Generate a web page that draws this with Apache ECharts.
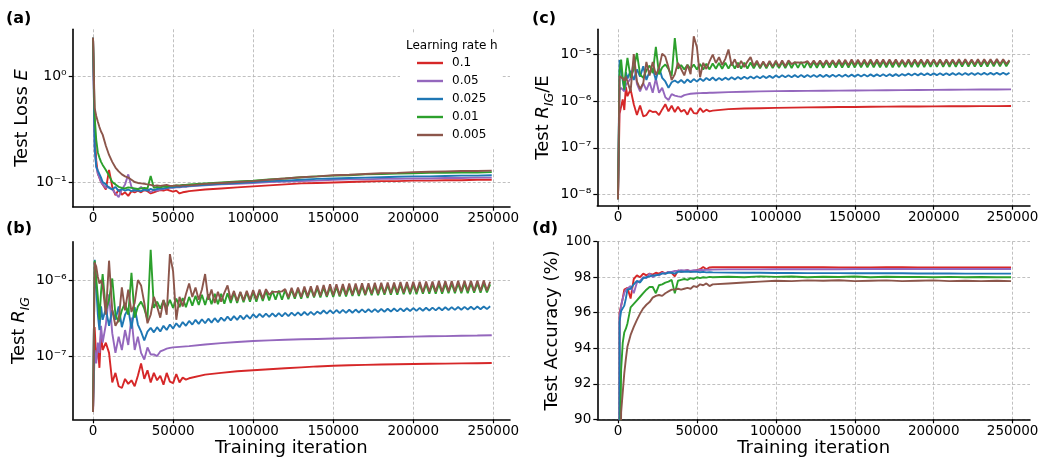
<!DOCTYPE html>
<html><head><meta charset="utf-8">
<script src="https://cdn.jsdelivr.net/npm/echarts@6/dist/echarts.min.js"></script>
<style>html,body{margin:0;padding:0;background:#fff}#c{width:1047px;height:462px}</style>
</head><body><div id="c"></div>
<script>
// ---------- sampling grids (training iteration) ----------
const xEarly = [0,1000,2000,3000,4000,5000,6000,8000,10000,12000,14000,16000,18000,20000,22000,24000,26000,28000,30000,32000,34000,36000,38000,40000,42000,44000,46000,48000,50000,52000,54000,56000,58000,60000];
const xLate = [62000,64000,66000,68000,70000,72000,74000,76000,78000,80000,
82000,84000,86000,88000,90000,92000,94000,96000,98000,100000,
102000,104000,106000,108000,110000,112000,114000,116000,118000,120000,
122000,124000,126000,128000,130000,132000,134000,136000,138000,140000,
142000,144000,146000,148000,150000,152000,154000,156000,158000,160000,
162000,164000,166000,168000,170000,172000,174000,176000,178000,180000,
182000,184000,186000,188000,190000,192000,194000,196000,198000,200000,
202000,204000,206000,208000,210000,212000,214000,216000,218000,220000,
222000,224000,226000,228000,230000,232000,234000,236000,238000,240000,
242000,244000,246000,248000];
const xCoarse = [70000,80000,90000,100000,110000,120000,130000,140000,150000,160000,170000,180000,190000,200000,210000,220000,230000,240000,249000];
const xTicks = [0,50000,100000,150000,200000,250000];

// ---------- (a) Test loss E ----------
const aRedEarly = [2.3,0.3,0.16,0.12,0.11,0.1,0.095,0.085,0.13,0.09,0.075,0.085,0.076,0.08,0.074,0.082,0.08,0.083,0.08,0.084,0.082,0.078,0.08,0.082,0.084,0.083,0.085,0.083,0.081,0.083,0.078,0.08,0.081,0.082];
const aPurpleEarly = [2.3,0.2,0.14,0.12,0.11,0.1,0.095,0.088,0.09,0.085,0.078,0.072,0.085,0.095,0.118,0.09,0.082,0.085,0.09,0.083,0.086,0.08,0.084,0.083,0.085,0.086,0.087,0.088,0.088,0.089,0.089,0.09,0.09,0.091];
const aBlueEarly = [2.3,0.22,0.14,0.128,0.13,0.11,0.1,0.095,0.088,0.085,0.09,0.082,0.086,0.083,0.085,0.082,0.084,0.083,0.082,0.085,0.083,0.086,0.084,0.086,0.087,0.087,0.088,0.089,0.089,0.09,0.09,0.091,0.091,0.092];
const aGreenEarly = [2.3,0.42,0.25,0.19,0.17,0.155,0.145,0.13,0.115,0.1,0.095,0.09,0.088,0.087,0.089,0.088,0.087,0.086,0.087,0.088,0.087,0.114,0.088,0.09,0.089,0.091,0.09,0.092,0.092,0.093,0.093,0.094,0.094,0.095];
const aBrownEarly = [2.3,0.5,0.42,0.37,0.33,0.3,0.28,0.22,0.18,0.155,0.137,0.126,0.118,0.113,0.11,0.105,0.1,0.098,0.097,0.096,0.095,0.094,0.092,0.093,0.092,0.093,0.094,0.092,0.092,0.093,0.092,0.093,0.093,0.093];
const aRedLate = [0.085,0.087,0.089,0.091,0.093,0.095,0.097,0.098,0.099,0.1,0.101,0.102,0.102,0.103,0.103,0.104,0.104,0.105,0.105];
const aPurpleLate = [0.093,0.095,0.096,0.098,0.1,0.101,0.102,0.103,0.105,0.106,0.106,0.107,0.107,0.108,0.108,0.109,0.109,0.11,0.11];
const aBlueLate = [0.094,0.096,0.098,0.1,0.102,0.103,0.105,0.107,0.108,0.109,0.11,0.111,0.112,0.113,0.113,0.114,0.115,0.115,0.116];
const aGreenLate = [0.097,0.099,0.101,0.103,0.106,0.108,0.111,0.113,0.115,0.116,0.118,0.119,0.12,0.121,0.122,0.122,0.123,0.123,0.124];
const aBrownLate = [0.096,0.098,0.1,0.102,0.105,0.108,0.111,0.113,0.116,0.117,0.119,0.121,0.122,0.124,0.125,0.126,0.127,0.127,0.128];

// ---------- (b) Test R_IG, values in units of 1e-7 ----------
const B_UNIT = 1e-7;
const bRedEarly = [0.184,2.4,0.9,1.3,0.7,2.0,1.2,1.5,1.1,0.45,0.6,0.4,0.38,0.5,0.43,0.48,0.4,0.55,0.8,0.5,0.65,0.45,0.6,0.48,0.55,0.42,0.6,0.46,0.44,0.58,0.45,0.52,0.49,0.51];
const bPurpleEarly = [0.184,1.2,0.8,1.5,1.1,2.5,1.5,2.6,6.5,2.0,1.1,1.8,1.2,2.2,1.4,3.2,1.2,1.8,1.1,0.9,1.3,1.05,1.05,1.0,1.15,1.2,1.25,1.28,1.3,1.31,1.32,1.33,1.34,1.35];
const bBlueEarly = [0.184,18.5,19,3.5,2.2,4.5,3.0,4.2,2.5,4.0,3.0,4.5,2.4,3.5,4.2,2.3,4.4,2.6,2.1,1.6,2.1,2.35,2.05,2.4,2.1,2.5,2.2,2.6,2.3,2.7,2.4,2.8,2.5,2.9];
const bGreenEarly = [0.184,18,19,6,3,7,12,4,5.5,10.5,3.5,2.8,4,5,3.5,12.5,3.2,4.5,5.2,4.2,3,25,4.3,5.2,4.2,5.4,4.3,5.5,4.3,5.7,4.4,5.8,4.4,6.0];
const bBrownEarly = [0.184,17,15,11,9,10,8.5,3.5,18,4,2.5,3,8,4,7.5,3.8,5,10,8.5,5,2.7,3.5,6,4.5,3.2,5.5,3.5,22,13,3,6,4.5,6.5,9];
const bRedLate = [0.57,0.6,0.63,0.65,0.67,0.69,0.71,0.73,0.745,0.755,0.765,0.775,0.78,0.785,0.79,0.795,0.8,0.805,0.81];
const bPurpleLate = [1.42,1.48,1.53,1.58,1.61,1.64,1.66,1.68,1.7,1.72,1.74,1.76,1.78,1.8,1.82,1.83,1.85,1.86,1.88];
const bBlueLate = [2.6,3.0,2.65,3.05,2.7,3.1,2.75,3.15,2.8,3.2,
2.9,3.3,2.95,3.35,3.0,3.4,3.05,3.45,3.1,3.55,
3.2,3.6,3.25,3.62,3.28,3.65,3.3,3.68,3.33,3.7,
3.36,3.73,3.4,3.76,3.42,3.8,3.45,3.82,3.48,3.85,
3.6,3.98,3.62,4.0,3.65,4.03,3.68,4.05,3.7,4.07,
3.72,4.09,3.74,4.11,3.76,4.13,3.78,4.15,3.8,4.17,
3.83,4.2,3.85,4.22,3.87,4.24,3.89,4.26,3.91,4.28,
3.93,4.3,3.95,4.32,3.97,4.34,3.99,4.36,4.01,4.38,
4.03,4.4,4.05,4.42,4.07,4.44,4.09,4.46,4.11,4.48,
4.13,4.5,4.15,4.52];
const bGreenLate = [4.6,6.2,4.7,6.4,4.7,6.5,4.8,6.6,4.8,6.6,
4.9,6.7,5.0,6.8,5.0,6.9,5.1,6.9,5.2,7.0,
5.2,7.1,5.3,7.2,5.4,7.2,5.5,7.3,5.5,7.4,
5.6,7.5,5.7,7.6,5.7,7.7,5.8,7.8,5.9,7.9,
5.9,8.0,6.0,8.0,6.0,8.1,6.1,8.2,6.1,8.2,
6.2,8.3,6.2,8.4,6.3,8.4,6.3,8.5,6.3,8.5,
6.4,8.6,6.4,8.6,6.4,8.7,6.5,8.7,6.5,8.8,
6.5,8.8,6.6,8.8,6.6,8.9,6.6,8.9,6.6,8.9,
6.7,9.0,6.7,9.0,6.7,9.0,6.7,9.1,6.8,9.1,
6.8,9.1,6.9,8.8];
const bBrownLate = [6.0,8.0,5.5,7.5,12.0,5.5,7.5,5.0,7.0,5.2,
6.8,8.5,5.5,7.2,5.3,7.0,5.4,7.2,5.5,7.4,
5.6,7.5,5.7,7.6,6.4,7.0,7.0,7.0,7.1,7.6,
5.9,7.9,6.0,8.0,6.0,8.2,6.1,8.3,6.1,8.5,
6.2,8.6,6.2,8.8,6.3,8.8,6.3,8.9,6.4,9.0,
6.4,9.0,6.5,9.1,6.5,9.1,6.6,9.2,6.6,9.2,
6.7,9.3,6.7,9.3,6.8,9.4,6.8,9.4,6.9,9.5,
6.9,9.5,6.9,9.6,7.0,9.6,7.0,9.7,7.0,9.7,
7.1,9.7,7.1,9.8,7.1,9.8,7.2,9.8,7.2,9.9,
7.2,9.9,7.3,9.5];

// ---------- (c) Test R_IG / E, values in units of 1e-6 ----------
const C_UNIT = 1e-6;
const cRedEarly = [0.008,0.53,0.56,1.08,0.64,2.0,1.26,1.76,0.85,0.5,0.8,0.47,0.5,0.63,0.58,0.59,0.5,0.66,0.85,0.6,0.79,0.58,0.75,0.59,0.65,0.51,0.71,0.55,0.54,0.7,0.58,0.65,0.6,0.62];
const cPurpleEarly = [0.008,1.7,1.9,1.8,1.6,2.2,2.0,3.0,7.0,2.3,1.6,2.4,1.7,2.5,1.5,3.0,1.5,1.9,1.2,1.05,1.4,1.3,1.25,1.22,1.33,1.38,1.42,1.44,1.46,1.47,1.48,1.48,1.49,1.49];
const cBlueEarly = [0.008,7.5,7.8,2.7,1.7,4.1,3.0,4.4,2.8,4.7,3.3,5.5,2.8,4.2,4.9,2.8,5.2,3.1,2.6,1.9,2.5,2.73,2.44,2.79,2.41,2.87,2.5,2.92,2.58,3.0,2.67,3.08,2.75,3.15];
const cGreenEarly = [0.008,4.3,7.6,3.2,1.76,4.5,8.3,3.1,4.8,10.5,3.7,3.1,4.5,5.7,3.9,14.2,3.7,5.2,6.0,4.8,3.4,22,4.9,5.8,4.7,5.9,4.8,6.0,4.7,6.1,4.7,6.2,4.7,6.3];
const cBrownEarly = [0.008,3.4,3.6,3.0,2.7,3.3,3.0,1.6,10,2.6,1.8,2.4,6.8,3.5,6.8,3.6,5.0,10.2,8.8,5.2,2.8,3.7,6.5,4.8,3.5,5.9,3.7,24,14,3.2,6.5,4.8,7.0,9.7];
const cRedLate = [0.67,0.69,0.70,0.71,0.72,0.73,0.735,0.74,0.745,0.75,0.755,0.76,0.762,0.765,0.768,0.77,0.773,0.775,0.78];
const cPurpleLate = [1.54,1.57,1.6,1.62,1.63,1.64,1.65,1.66,1.67,1.68,1.69,1.7,1.71,1.72,1.73,1.74,1.75,1.755,1.76];
const cBlueLate = [2.73,3.09,2.78,3.14,2.83,3.19,2.88,3.24,2.92,3.28,
2.96,3.32,3.0,3.36,3.04,3.39,3.07,3.42,3.1,3.5,
3.17,3.52,3.19,3.53,3.2,3.55,3.21,3.56,3.22,3.57,
3.23,3.58,3.24,3.59,3.25,3.6,3.26,3.61,3.27,3.62,
3.28,3.63,3.29,3.64,3.3,3.66,3.32,3.67,3.33,3.68,
3.34,3.69,3.35,3.7,3.36,3.72,3.38,3.73,3.39,3.74,
3.48,3.83,3.49,3.84,3.5,3.86,3.52,3.87,3.53,3.88,
3.54,3.89,3.55,3.9,3.56,3.91,3.57,3.92,3.58,3.93,
3.59,3.94,3.6,3.95,3.61,3.96,3.62,3.97,3.63,3.98,
3.64,3.99,3.65,4.0];
const cGreenLate = [4.85,6.45,4.86,6.5,4.88,6.52,4.9,6.55,4.9,6.55,
4.92,6.6,4.94,6.62,4.96,6.65,4.98,6.68,5.0,6.7,
5.02,6.72,5.03,6.75,5.05,6.77,5.06,6.8,5.07,6.82,
5.08,6.84,5.1,6.86,5.11,6.88,5.12,6.9,5.14,6.92,
5.15,6.94,5.16,6.96,5.18,6.98,5.19,7.0,5.2,7.02,
5.21,7.04,5.22,7.06,5.23,7.08,5.24,7.1,5.25,7.12,
5.26,7.14,5.28,7.16,5.29,7.18,5.3,7.2,5.32,7.22,
5.33,7.23,5.34,7.24,5.36,7.25,5.37,7.26,5.38,7.27,
5.4,7.28,5.41,7.29,5.42,7.3,5.44,7.31,5.46,7.32,
5.48,7.33,5.5,7.1];
const cBrownLate = [6.45,8.56,5.85,7.9,12.5,5.7,7.73,5.13,7.14,5.3,
6.9,8.6,5.53,7.2,5.3,6.97,5.35,7.1,5.4,7.25,
5.46,7.28,5.5,7.3,6.1,6.63,6.6,6.54,6.6,7.04,
5.84,7.25,5.85,7.24,5.8,7.35,5.85,7.38,5.8,7.52,
5.84,7.51,5.79,7.62,5.83,7.59,5.81,7.61,5.87,7.69,
5.85,7.63,5.89,7.65,5.86,7.62,5.9,7.63,5.85,7.6,
5.91,7.65,5.89,7.62,5.97,7.67,5.93,7.61,5.96,7.66,
5.94,7.63,5.92,7.68,6.0,7.65,5.98,7.7,5.96,7.7,
6.01,7.67,5.99,7.72,5.99,7.72,6.07,7.72,6.07,7.8,
6.05,7.76,6.1,7.42];

// ---------- (d) Test accuracy (%) ----------
const dRedEarly = [10,96.0,96.4,96.8,97.3,97.3,97.4,96.8,97.9,98.1,98.0,98.2,98.1,98.2,98.15,98.25,98.2,98.3,98.2,98.3,98.25,98.05,98.38,98.3,98.35,98.4,98.3,98.35,98.4,98.45,98.58,98.45,98.55,98.56];
const dPurpleEarly = [10,95.8,96.4,96.8,97.1,97.3,97.4,97.5,97.1,97.7,97.8,98.0,97.95,98.2,98.0,98.15,98.1,98.25,98.2,98.3,98.3,98.35,98.37,98.4,98.38,98.4,98.35,98.4,98.38,98.42,98.4,98.42,98.42,98.43];
const dBlueEarly = [10,95.5,96.1,96.2,96.4,96.8,97.3,97.35,97.6,97.8,97.7,97.95,98.0,98.05,98.1,98.1,98.15,98.2,98.2,98.25,98.25,98.2,98.3,98.32,98.3,98.32,98.3,98.3,98.3,98.28,98.3,98.27,98.28,98.27];
const dGreenEarly = [10,86,92.8,94.3,94.9,95.1,95.4,96.3,96.5,96.7,96.9,97.1,97.3,97.45,97.45,97.1,97.55,97.6,97.7,97.75,97.85,97.1,97.8,97.85,97.9,97.85,97.95,97.9,98.0,97.95,98.0,97.98,98.02,98.0];
const dBrownEarly = [10,80,90.4,91.5,92.6,93.4,94.1,94.75,95.2,95.6,95.95,96.25,96.45,96.6,96.85,96.95,97.0,96.95,97.1,97.2,97.3,97.3,97.35,97.3,97.35,97.4,97.35,97.5,97.45,97.6,97.55,97.65,97.5,97.6];
const dRedLate = [98.56,98.56,98.56,98.56,98.56,98.56,98.56,98.55,98.55,98.55,98.56,98.56,98.55,98.55,98.55,98.55,98.55,98.55,98.55];
const dPurpleLate = [98.44,98.44,98.44,98.45,98.45,98.45,98.45,98.45,98.46,98.46,98.46,98.46,98.46,98.46,98.46,98.46,98.46,98.46,98.46];
const dBlueLate = [98.26,98.25,98.25,98.24,98.24,98.23,98.23,98.23,98.22,98.22,98.22,98.22,98.21,98.21,98.21,98.2,98.2,98.2,98.2];
const dGreenLate = [98.03,98.0,98.05,98.02,98.04,98.0,98.03,98.01,98.04,98.0,98.03,98.01,98.02,98.0,98.02,98.0,98.01,98.0,98.0];
const dBrownLate = [97.65,97.7,97.75,97.8,97.78,97.82,97.8,97.83,97.78,97.8,97.82,97.78,97.8,97.82,97.78,97.8,97.78,97.8,97.78];

const NAMES = ['0.1','0.05','0.025','0.01','0.005'];
const COLORS = ['#d62728','#9467bd','#1f77b4','#2ca02c','#8c564b'];
const FONT = 'DejaVu Sans';

// ---------- build ----------
function pts(xs, ys, k) { return xs.map((x, i) => [x, ys[i] * k]); }
function join(a, b) { return a.concat(b); }
function line(idx, panel, data) {
  return { type: 'line', name: NAMES[idx], xAxisIndex: panel, yAxisIndex: panel, data,
    symbol: 'none', showSymbol: false, clip: true, silent: true, animation: false, z: 2 + idx,
    lineStyle: { width: 1.9, color: COLORS[idx] }, itemStyle: { color: COLORS[idx] } };
}
const series = [
  line(0, 0, join(pts(xEarly, aRedEarly, 1), pts(xCoarse, aRedLate, 1))),
  line(1, 0, join(pts(xEarly, aPurpleEarly, 1), pts(xCoarse, aPurpleLate, 1))),
  line(2, 0, join(pts(xEarly, aBlueEarly, 1), pts(xCoarse, aBlueLate, 1))),
  line(3, 0, join(pts(xEarly, aGreenEarly, 1), pts(xCoarse, aGreenLate, 1))),
  line(4, 0, join(pts(xEarly, aBrownEarly, 1), pts(xCoarse, aBrownLate, 1))),

  line(0, 1, join(pts(xEarly, bRedEarly, B_UNIT), pts(xCoarse, bRedLate, B_UNIT))),
  line(1, 1, join(pts(xEarly, bPurpleEarly, B_UNIT), pts(xCoarse, bPurpleLate, B_UNIT))),
  line(2, 1, join(pts(xEarly, bBlueEarly, B_UNIT), pts(xLate, bBlueLate, B_UNIT))),
  line(3, 1, join(pts(xEarly, bGreenEarly, B_UNIT), pts(xLate, bGreenLate, B_UNIT))),
  line(4, 1, join(pts(xEarly, bBrownEarly, B_UNIT), pts(xLate, bBrownLate, B_UNIT))),

  line(0, 2, join(pts(xEarly, cRedEarly, C_UNIT), pts(xCoarse, cRedLate, C_UNIT))),
  line(1, 2, join(pts(xEarly, cPurpleEarly, C_UNIT), pts(xCoarse, cPurpleLate, C_UNIT))),
  line(2, 2, join(pts(xEarly, cBlueEarly, C_UNIT), pts(xLate, cBlueLate, C_UNIT))),
  line(3, 2, join(pts(xEarly, cGreenEarly, C_UNIT), pts(xLate, cGreenLate, C_UNIT))),
  line(4, 2, join(pts(xEarly, cBrownEarly, C_UNIT), pts(xLate, cBrownLate, C_UNIT))),

  line(0, 3, join(pts(xEarly, dRedEarly, 1), pts(xCoarse, dRedLate, 1))),
  line(1, 3, join(pts(xEarly, dPurpleEarly, 1), pts(xCoarse, dPurpleLate, 1))),
  line(2, 3, join(pts(xEarly, dBlueEarly, 1), pts(xCoarse, dBlueLate, 1))),
  line(3, 3, join(pts(xEarly, dGreenEarly, 1), pts(xCoarse, dGreenLate, 1))),
  line(4, 3, join(pts(xEarly, dBrownEarly, 1), pts(xCoarse, dBrownLate, 1)))
];

const gridLine = { show: true, lineStyle: { color: '#b0b0b0', width: 0.8, type: [3, 2] } };
const spine = { show: true, onZero: false, lineStyle: { color: '#000', width: 1.6 } };
const tickStyle = { color: '#000', width: 1.2 };

function xAx(g, min, max, name) {
  return { type: 'value', gridIndex: g, min, max,
    axisLine: spine,
    axisTick: { show: true, customValues: xTicks, length: 4, lineStyle: tickStyle },
    axisLabel: { customValues: xTicks, margin: 5, color: '#000', fontSize: 13.5, fontFamily: FONT, formatter: v => String(v) },
    splitLine: gridLine,
    name: name || '', nameLocation: 'middle', nameGap: 18,
    nameTextStyle: { fontSize: 18, color: '#000', fontFamily: FONT } };
}
const SUP = { '0': '\u2070', '1': '\u00b9', '2': '\u00b2', '3': '\u00b3', '4': '\u2074', '5': '\u2075', '6': '\u2076', '7': '\u2077', '8': '\u2078', '9': '\u2079', '-': '\u207b' };
function sci(v) {
  const e = String(Math.round(Math.log10(v)));
  return '10' + e.split('').map(c => SUP[c]).join('');
}
const nameRich = {
  n: { fontSize: 18, fontFamily: FONT, color: '#000', lineHeight: 22, verticalAlign: 'top' },
  i: { fontSize: 18, fontFamily: FONT, color: '#000', fontStyle: 'italic', lineHeight: 22, verticalAlign: 'top' },
  sub: { fontSize: 12.5, fontFamily: FONT, color: '#000', fontStyle: 'italic', lineHeight: 13, verticalAlign: 'bottom', padding: [11, 0, 0, 0] }
};
function logY(g, min, max, ticks, name, gap) {
  return { type: 'log', logBase: 10, gridIndex: g, min, max,
    axisLine: spine,
    axisTick: { show: true, customValues: ticks, length: 4, lineStyle: tickStyle },
    axisLabel: { customValues: ticks, margin: 6, formatter: sci, color: '#000', fontSize: 14, fontFamily: FONT },
    splitLine: gridLine,
    name, nameLocation: 'middle', nameGap: gap,
    nameTextStyle: { fontSize: 18, fontFamily: FONT, color: '#000', rich: nameRich } };
}

const option = {
  animation: false,
  backgroundColor: '#fff',
  textStyle: { fontFamily: FONT },
  grid: [
    { left: 72.7, top: 29.3, width: 437.3, height: 177.4, outerBoundsMode: 'none' },
    { left: 72.7, top: 241.7, width: 437.3, height: 177.6, outerBoundsMode: 'none' },
    { left: 597.3, top: 29.3, width: 432.7, height: 176.4, outerBoundsMode: 'none' },
    { left: 597.3, top: 241.7, width: 432.7, height: 177.6, outerBoundsMode: 'none' }
  ],
  xAxis: [
    xAx(0, -12700, 260400),
    xAx(1, -12700, 260400, 'Training iteration'),
    xAx(2, -13100, 261000),
    xAx(3, -13100, 261000, 'Training iteration')
  ],
  yAxis: [
    logY(0, 0.0585, 2.76, [0.1, 1], '{n|Test Loss }{i|E}', 37),
    logY(1, 1.47e-8, 3.2e-6, [1e-7, 1e-6], '{n|Test }{i|R}{sub|IG}', 37),
    logY(2, 5.83e-9, 3.37e-5, [1e-8, 1e-7, 1e-6, 1e-5], '{n|Test }{i|R}{sub|IG}{n|/E}', 41),
    { type: 'value', gridIndex: 3, min: 90, max: 100, interval: 2,
      axisLine: spine,
      axisTick: { show: true, length: 4, lineStyle: tickStyle },
      axisLabel: { margin: 6, color: '#000', fontSize: 13.5, fontFamily: FONT },
      splitLine: gridLine,
      name: 'Test Accuracy (%)', nameLocation: 'middle', nameGap: 36,
      nameTextStyle: { fontSize: 18, fontFamily: FONT, color: '#000' } }
  ],
  legend: {
    data: NAMES, orient: 'vertical', left: 400, top: 33, icon: 'rect',
    padding: [23, 16, 6, 17], itemWidth: 26, itemHeight: 2.4, itemGap: 4,
    backgroundColor: '#fff', borderWidth: 0, selectedMode: false,
    textStyle: { fontSize: 12, fontFamily: FONT, color: '#000', lineHeight: 14, padding: [0, 0, 0, 4] }
  },
  graphic: [
    { type: 'text', left: 6, top: 11, z: 100, style: { text: '(a)', font: 'bold 16px "DejaVu Sans"', fill: '#000' } },
    { type: 'text', left: 6, top: 221, z: 100, style: { text: '(b)', font: 'bold 16px "DejaVu Sans"', fill: '#000' } },
    { type: 'text', left: 532, top: 11, z: 100, style: { text: '(c)', font: 'bold 16px "DejaVu Sans"', fill: '#000' } },
    { type: 'text', left: 532, top: 221, z: 100, style: { text: '(d)', font: 'bold 16px "DejaVu Sans"', fill: '#000' } },
    { type: 'text', left: 406, top: 40, z: 100, style: { text: 'Learning rate h', font: '12px "DejaVu Sans"', fill: '#000' } }
  ],
  series
};
const chart = echarts.init(document.getElementById('c'));
chart.setOption(option);
</script></body></html>
